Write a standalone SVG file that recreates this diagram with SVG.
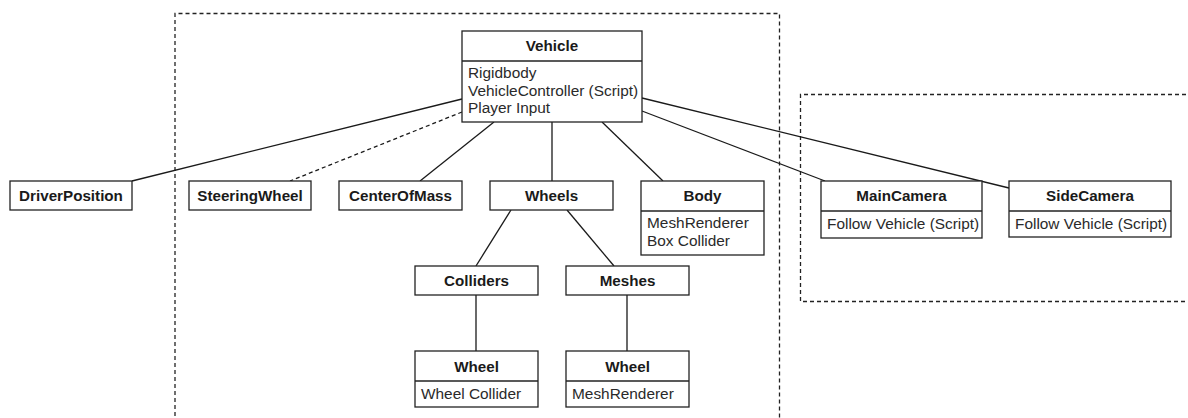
<svg xmlns="http://www.w3.org/2000/svg" width="1188" height="418" viewBox="0 0 1188 418">
  <style>
    .box { fill: #ffffff; stroke: #222222; stroke-width: 1.3; }
    .sep { stroke: #222222; stroke-width: 1.3; }
    .title { font-family: "Liberation Sans", Arial, sans-serif; font-size: 15.2px; font-weight: bold; fill: #1a1a1a; text-anchor: middle; }
    .attr { font-family: "Liberation Sans", Arial, sans-serif; font-size: 15.4px; fill: #2a2a2a; }
    .link { stroke: #1a1a1a; stroke-width: 1.3; fill: none; }
    .dash { stroke: #1a1a1a; stroke-width: 1.3; fill: none; stroke-dasharray: 4 3; }
    .frame { stroke: #222222; stroke-width: 1.3; fill: none; stroke-dasharray: 4 3; }
  </style>

  <rect width="1188" height="418" fill="#ffffff"/>

  <!-- grouping frames -->
  <g id="frames">
    <path class="frame" d="M175,430 V13.5 H779.5 V430"/>
    <path class="frame" d="M1200,94.5 H800.5 V301.5 H1200"/>
  </g>

  <!-- hierarchy links -->
  <g id="connectors">
    <line class="link" x1="462" y1="99" x2="132" y2="181"/>
    <line class="dash" x1="462" y1="112" x2="290" y2="181"/>
    <line class="link" x1="494" y1="122" x2="420" y2="181"/>
    <line class="link" x1="552" y1="122" x2="552" y2="181"/>
    <line class="link" x1="602" y1="122" x2="663" y2="181"/>
    <line class="link" x1="642" y1="111" x2="825" y2="181"/>
    <line class="link" x1="642" y1="98" x2="1009" y2="188"/>
    <line class="link" x1="511" y1="210" x2="476" y2="266"/>
    <line class="link" x1="567" y1="210" x2="614" y2="266"/>
    <line class="link" x1="476" y1="295" x2="476" y2="351"/>
    <line class="link" x1="627" y1="295" x2="627" y2="351"/>
  </g>

  <g id="vehicle">
    <rect class="box" x="462" y="31" width="180" height="91"/>
    <line class="sep" x1="462" y1="61" x2="642" y2="61"/>
    <text class="title" x="552" y="51">Vehicle</text>
    <text class="attr" x="468" y="78">Rigidbody</text>
    <text class="attr" x="468" y="96">VehicleController (Script)</text>
    <text class="attr" x="468" y="113">Player Input</text>
  </g>

  <g id="driver-position">
    <rect class="box" x="10" y="181" width="122" height="29"/>
    <text class="title" x="71" y="201">DriverPosition</text>
  </g>

  <g id="steering-wheel">
    <rect class="box" x="189" y="181" width="122" height="29"/>
    <text class="title" x="250" y="201">SteeringWheel</text>
  </g>

  <g id="center-of-mass">
    <rect class="box" x="339" y="181" width="123" height="29"/>
    <text class="title" x="400.5" y="201">CenterOfMass</text>
  </g>

  <g id="wheels">
    <rect class="box" x="490" y="181" width="123" height="29"/>
    <text class="title" x="551.5" y="201">Wheels</text>
  </g>

  <g id="body">
    <rect class="box" x="641" y="181" width="123" height="74"/>
    <line class="sep" x1="641" y1="211" x2="764" y2="211"/>
    <text class="title" x="702.5" y="201">Body</text>
    <text class="attr" x="647" y="228">MeshRenderer</text>
    <text class="attr" x="647" y="246">Box Collider</text>
  </g>

  <g id="main-camera">
    <rect class="box" x="821" y="181" width="161" height="57"/>
    <line class="sep" x1="821" y1="211" x2="982" y2="211"/>
    <text class="title" x="901.5" y="201">MainCamera</text>
    <text class="attr" x="827" y="229">Follow Vehicle (Script)</text>
  </g>

  <g id="side-camera">
    <rect class="box" x="1009" y="181" width="162" height="56"/>
    <line class="sep" x1="1009" y1="211" x2="1171" y2="211"/>
    <text class="title" x="1090" y="201">SideCamera</text>
    <text class="attr" x="1015" y="229">Follow Vehicle (Script)</text>
  </g>

  <g id="colliders">
    <rect class="box" x="415" y="266" width="123" height="29"/>
    <text class="title" x="476.5" y="286">Colliders</text>
  </g>

  <g id="meshes">
    <rect class="box" x="566" y="266" width="123" height="29"/>
    <text class="title" x="627.5" y="286">Meshes</text>
  </g>

  <g id="wheel-collider">
    <rect class="box" x="415" y="351" width="123" height="56"/>
    <line class="sep" x1="415" y1="381" x2="538" y2="381"/>
    <text class="title" x="476.5" y="372">Wheel</text>
    <text class="attr" x="421" y="399">Wheel Collider</text>
  </g>

  <g id="wheel-mesh">
    <rect class="box" x="566" y="351" width="123" height="56"/>
    <line class="sep" x1="566" y1="381" x2="689" y2="381"/>
    <text class="title" x="627.5" y="372">Wheel</text>
    <text class="attr" x="572" y="399">MeshRenderer</text>
  </g>
</svg>
